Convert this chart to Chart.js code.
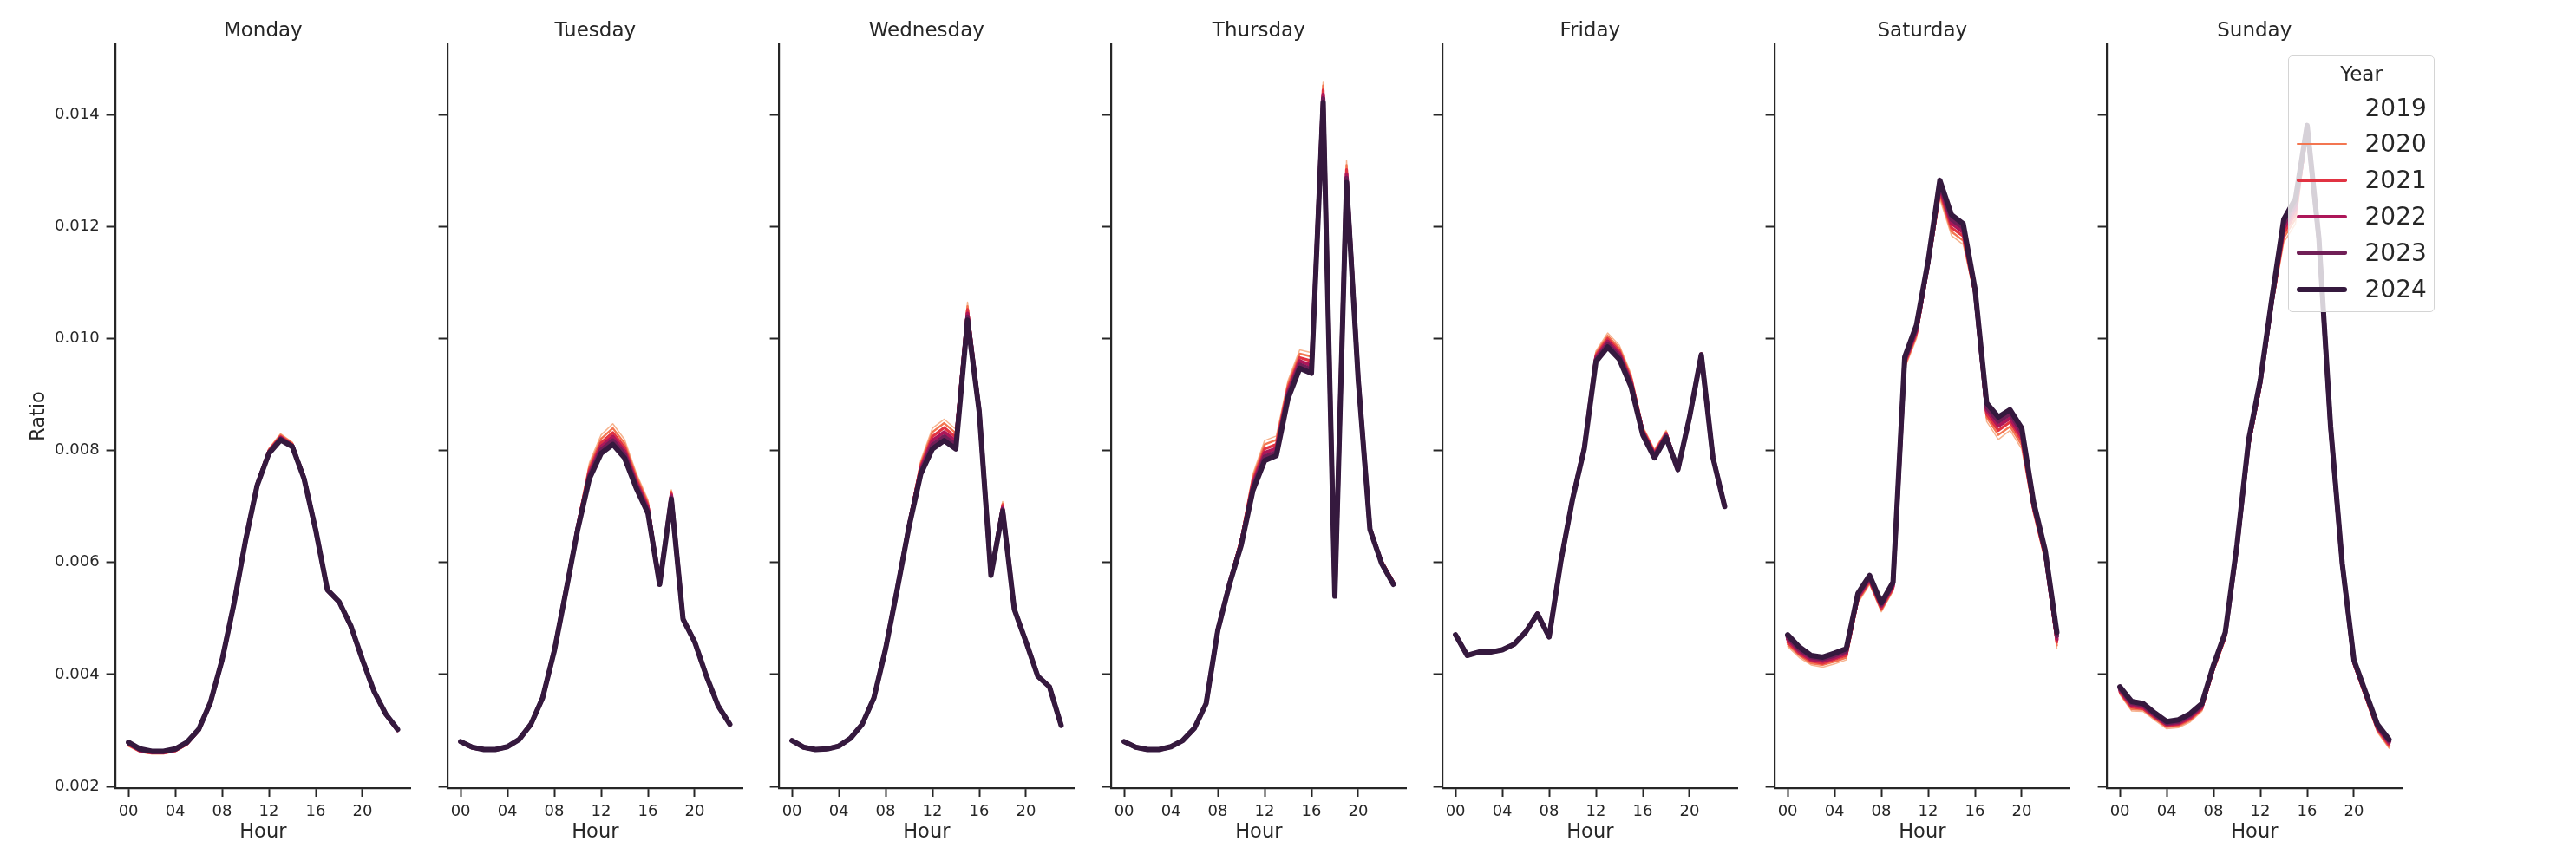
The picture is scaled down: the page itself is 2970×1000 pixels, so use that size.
<!DOCTYPE html>
<html>
<head>
<meta charset="utf-8">
<title>Hourly ratio by weekday and year</title>
<script src="https://cdn.jsdelivr.net/npm/chart.js@4.4.1/dist/chart.umd.min.js"></script>
<style>
  html, body { margin: 0; padding: 0; background: #fff; }
  #wrap { position: relative; width: 2970px; height: 1000px; overflow: hidden; background: #fff;
          font-family: 'DejaVu Sans', sans-serif; color: #262626; }
  #wrap canvas { position: absolute; top: 0; }
  #legend { position: absolute; left: 2638px; top: 64px; width: 169px; height: 296px; box-sizing: border-box;
            border: 1.5px solid #d4d4d4; border-radius: 5px; background: rgba(255, 255, 255, 0.8); z-index: 10; }
  #legend .legend-title { position: absolute; left: 0; width: 100%; top: 6px; line-height: 28px;
                          font-size: 23px; text-align: center; }
  #legend .legend-row { position: absolute; left: 0; width: 100%; height: 30px; }
  #legend .handle { position: absolute; left: 8.5px; width: 58px; }
  #legend .label { position: absolute; left: 87.5px; top: 0; line-height: 30px; font-size: 28px; }
</style>
</head>
<body>
<div id="wrap">
  <div id="legend"></div>
</div>
<script>
var hours = [0, 1, 2, 3, 4, 5, 6, 7, 8, 9, 10, 11, 12, 13, 14, 15, 16, 17, 18, 19, 20, 21, 22, 23];
var hourTicks = [0, 4, 8, 12, 16, 20];
var ratioTicks = [0.002, 0.004, 0.006, 0.008, 0.010, 0.012, 0.014];
var days = ['Monday', 'Tuesday', 'Wednesday', 'Thursday', 'Friday', 'Saturday', 'Sunday'];
var years = ['2019', '2020', '2021', '2022', '2023', '2024'];
var yearColors = ['#f6b48f', '#f37651', '#e13342', '#ad1759', '#701f57', '#35193e'];
var yearWidths = [1.5, 2.4, 3.3, 4.2, 5.1, 6.0];

// ratio per hour
var mon2019 = [0.00272,0.00261,0.00258,0.00258,0.00262,0.00274,0.00298,0.00348,0.00425,0.00526,0.00642,0.00744,0.00804,0.00830,0.00815,0.00755,0.00659,0.00549,0.00527,0.00484,0.00422,0.00366,0.00326,0.00298];
var mon2020 = [0.00273,0.00262,0.00259,0.00259,0.00263,0.00275,0.00299,0.00348,0.00425,0.00526,0.00641,0.00743,0.00802,0.00828,0.00813,0.00754,0.00659,0.00549,0.00528,0.00485,0.00423,0.00367,0.00327,0.00299];
var mon2021 = [0.00275,0.00263,0.00260,0.00260,0.00264,0.00276,0.00300,0.00349,0.00425,0.00525,0.00640,0.00741,0.00800,0.00825,0.00811,0.00753,0.00658,0.00550,0.00528,0.00485,0.00424,0.00367,0.00327,0.00300];
var mon2022 = [0.00276,0.00264,0.00261,0.00261,0.00265,0.00277,0.00301,0.00349,0.00426,0.00525,0.00640,0.00740,0.00798,0.00823,0.00809,0.00752,0.00658,0.00550,0.00529,0.00486,0.00425,0.00368,0.00328,0.00301];
var mon2023 = [0.00278,0.00266,0.00262,0.00262,0.00266,0.00278,0.00301,0.00350,0.00426,0.00525,0.00639,0.00739,0.00796,0.00821,0.00808,0.00751,0.00658,0.00551,0.00530,0.00486,0.00426,0.00369,0.00329,0.00301];
var mon2024 = [0.00279,0.00267,0.00263,0.00263,0.00267,0.00279,0.00302,0.00350,0.00426,0.00525,0.00639,0.00738,0.00795,0.00819,0.00807,0.00750,0.00658,0.00551,0.00530,0.00487,0.00426,0.00369,0.00329,0.00302];

var tue2019 = [0.00278,0.00268,0.00265,0.00265,0.00270,0.00283,0.00311,0.00360,0.00446,0.00556,0.00672,0.00778,0.00828,0.00848,0.00820,0.00760,0.00712,0.00565,0.00730,0.00503,0.00460,0.00398,0.00344,0.00310];
var tue2020 = [0.00279,0.00268,0.00265,0.00265,0.00270,0.00283,0.00311,0.00360,0.00445,0.00555,0.00670,0.00772,0.00821,0.00840,0.00813,0.00755,0.00707,0.00564,0.00727,0.00502,0.00460,0.00398,0.00344,0.00310];
var tue2021 = [0.00279,0.00269,0.00265,0.00265,0.00270,0.00283,0.00311,0.00359,0.00444,0.00553,0.00667,0.00766,0.00814,0.00832,0.00806,0.00749,0.00702,0.00563,0.00723,0.00501,0.00459,0.00398,0.00344,0.00311];
var tue2022 = [0.00280,0.00269,0.00266,0.00266,0.00271,0.00284,0.00311,0.00359,0.00444,0.00552,0.00664,0.00760,0.00807,0.00825,0.00799,0.00743,0.00697,0.00562,0.00720,0.00500,0.00459,0.00397,0.00344,0.00311];
var tue2023 = [0.00280,0.00270,0.00266,0.00266,0.00271,0.00284,0.00311,0.00358,0.00443,0.00550,0.00661,0.00755,0.00801,0.00818,0.00793,0.00738,0.00692,0.00561,0.00716,0.00499,0.00458,0.00397,0.00344,0.00311];
var tue2024 = [0.00280,0.00270,0.00266,0.00266,0.00271,0.00284,0.00311,0.00358,0.00442,0.00549,0.00659,0.00750,0.00795,0.00811,0.00787,0.00733,0.00688,0.00561,0.00713,0.00499,0.00458,0.00397,0.00344,0.00311];

var wed2019 = [0.00281,0.00269,0.00265,0.00266,0.00271,0.00286,0.00312,0.00360,0.00449,0.00558,0.00675,0.00782,0.00840,0.00856,0.00838,0.01065,0.00880,0.00580,0.00709,0.00520,0.00460,0.00398,0.00380,0.00309];
var wed2020 = [0.00281,0.00269,0.00265,0.00266,0.00271,0.00286,0.00312,0.00360,0.00449,0.00557,0.00673,0.00777,0.00833,0.00849,0.00831,0.01058,0.00878,0.00579,0.00705,0.00519,0.00460,0.00398,0.00380,0.00309];
var wed2021 = [0.00281,0.00269,0.00265,0.00266,0.00271,0.00286,0.00311,0.00359,0.00448,0.00556,0.00671,0.00772,0.00825,0.00841,0.00824,0.01052,0.00876,0.00579,0.00702,0.00518,0.00459,0.00398,0.00379,0.00309];
var wed2022 = [0.00282,0.00270,0.00266,0.00267,0.00272,0.00286,0.00311,0.00359,0.00447,0.00555,0.00668,0.00767,0.00818,0.00833,0.00817,0.01045,0.00873,0.00578,0.00698,0.00517,0.00459,0.00397,0.00379,0.00309];
var wed2023 = [0.00282,0.00270,0.00266,0.00267,0.00272,0.00286,0.00311,0.00358,0.00447,0.00554,0.00666,0.00762,0.00810,0.00825,0.00810,0.01039,0.00871,0.00578,0.00695,0.00516,0.00458,0.00397,0.00378,0.00309];
var wed2024 = [0.00282,0.00270,0.00266,0.00267,0.00272,0.00286,0.00311,0.00358,0.00446,0.00553,0.00664,0.00758,0.00803,0.00818,0.00803,0.01033,0.00869,0.00577,0.00692,0.00516,0.00458,0.00397,0.00378,0.00309];

var thu2019 = [0.00279,0.00269,0.00265,0.00265,0.00270,0.00282,0.00305,0.00350,0.00483,0.00570,0.00647,0.00758,0.00818,0.00826,0.00925,0.00980,0.00975,0.01458,0.00545,0.01318,0.00940,0.00665,0.00605,0.00568];
var thu2020 = [0.00279,0.00269,0.00265,0.00265,0.00270,0.00282,0.00305,0.00350,0.00482,0.00568,0.00644,0.00752,0.00811,0.00819,0.00919,0.00973,0.00968,0.01452,0.00544,0.01310,0.00937,0.00664,0.00604,0.00567];
var thu2021 = [0.00279,0.00269,0.00265,0.00265,0.00270,0.00282,0.00305,0.00349,0.00481,0.00566,0.00640,0.00746,0.00803,0.00811,0.00912,0.00966,0.00960,0.01444,0.00543,0.01302,0.00934,0.00663,0.00602,0.00565];
var thu2022 = [0.00280,0.00270,0.00266,0.00266,0.00271,0.00282,0.00304,0.00349,0.00480,0.00564,0.00637,0.00740,0.00796,0.00804,0.00905,0.00960,0.00952,0.01436,0.00542,0.01294,0.00931,0.00661,0.00600,0.00564];
var thu2023 = [0.00280,0.00270,0.00266,0.00266,0.00271,0.00282,0.00304,0.00348,0.00480,0.00563,0.00634,0.00734,0.00789,0.00797,0.00899,0.00953,0.00945,0.01429,0.00541,0.01287,0.00928,0.00660,0.00599,0.00562];
var thu2024 = [0.00280,0.00270,0.00266,0.00266,0.00271,0.00282,0.00304,0.00348,0.00479,0.00561,0.00631,0.00729,0.00782,0.00791,0.00893,0.00947,0.00938,0.01422,0.00540,0.01279,0.00926,0.00659,0.00598,0.00561];

var fri2019 = [0.00471,0.00434,0.00440,0.00440,0.00444,0.00455,0.00478,0.00511,0.00468,0.00604,0.00718,0.00812,0.00978,0.01010,0.00988,0.00937,0.00843,0.00802,0.00836,0.00770,0.00862,0.00975,0.00790,0.00700];
var fri2020 = [0.00471,0.00434,0.00440,0.00440,0.00444,0.00455,0.00478,0.00510,0.00468,0.00604,0.00717,0.00810,0.00974,0.01005,0.00983,0.00932,0.00840,0.00799,0.00833,0.00769,0.00862,0.00974,0.00789,0.00700];
var fri2021 = [0.00471,0.00434,0.00440,0.00440,0.00444,0.00455,0.00477,0.00510,0.00468,0.00603,0.00716,0.00808,0.00970,0.01000,0.00978,0.00928,0.00837,0.00796,0.00831,0.00768,0.00861,0.00973,0.00789,0.00700];
var fri2022 = [0.00471,0.00434,0.00440,0.00440,0.00444,0.00454,0.00477,0.00509,0.00467,0.00603,0.00715,0.00806,0.00966,0.00995,0.00973,0.00923,0.00834,0.00793,0.00828,0.00767,0.00861,0.00972,0.00788,0.00700];
var fri2023 = [0.00471,0.00434,0.00440,0.00440,0.00444,0.00454,0.00476,0.00509,0.00467,0.00602,0.00714,0.00805,0.00962,0.00990,0.00968,0.00918,0.00831,0.00790,0.00826,0.00766,0.00860,0.00971,0.00788,0.00700];
var fri2024 = [0.00471,0.00434,0.00440,0.00440,0.00444,0.00454,0.00476,0.00508,0.00467,0.00602,0.00713,0.00803,0.00959,0.00985,0.00963,0.00914,0.00828,0.00787,0.00823,0.00766,0.00860,0.00971,0.00787,0.00700];

var sat2019 = [0.00450,0.00430,0.00417,0.00413,0.00419,0.00426,0.00528,0.00561,0.00512,0.00549,0.00947,0.01000,0.01123,0.01250,0.01184,0.01168,0.01074,0.00852,0.00820,0.00836,0.00803,0.00688,0.00602,0.00446];
var sat2020 = [0.00454,0.00434,0.00420,0.00417,0.00423,0.00430,0.00531,0.00564,0.00515,0.00552,0.00951,0.01005,0.01126,0.01257,0.01191,0.01175,0.01077,0.00859,0.00828,0.00843,0.00810,0.00692,0.00606,0.00452];
var sat2021 = [0.00458,0.00437,0.00424,0.00420,0.00427,0.00434,0.00535,0.00567,0.00518,0.00555,0.00955,0.01010,0.01129,0.01263,0.01198,0.01183,0.01080,0.00865,0.00836,0.00851,0.00818,0.00697,0.00610,0.00458];
var sat2022 = [0.00463,0.00441,0.00427,0.00424,0.00430,0.00438,0.00538,0.00570,0.00522,0.00558,0.00959,0.01014,0.01133,0.01270,0.01206,0.01190,0.01084,0.00872,0.00844,0.00858,0.00825,0.00700,0.00614,0.00463];
var sat2023 = [0.00467,0.00445,0.00431,0.00428,0.00434,0.00442,0.00542,0.00574,0.00525,0.00562,0.00963,0.01019,0.01136,0.01277,0.01213,0.01198,0.01087,0.00878,0.00852,0.00866,0.00833,0.00705,0.00618,0.00469];
var sat2024 = [0.00471,0.00449,0.00434,0.00431,0.00438,0.00446,0.00545,0.00577,0.00528,0.00565,0.00967,0.01024,0.01139,0.01283,0.01221,0.01205,0.01090,0.00885,0.00860,0.00873,0.00840,0.00709,0.00622,0.00475];

var sun2019 = [0.00364,0.00335,0.00334,0.00318,0.00303,0.00305,0.00315,0.00334,0.00405,0.00462,0.00615,0.00800,0.00908,0.01055,0.01172,0.01205,0.01370,0.01172,0.00835,0.00590,0.00415,0.00356,0.00297,0.00268];
var sun2020 = [0.00367,0.00338,0.00337,0.00321,0.00306,0.00308,0.00318,0.00337,0.00407,0.00465,0.00618,0.00804,0.00912,0.01059,0.01180,0.01214,0.01372,0.01174,0.00837,0.00592,0.00417,0.00358,0.00300,0.00271];
var sun2021 = [0.00369,0.00342,0.00339,0.00323,0.00308,0.00311,0.00321,0.00339,0.00410,0.00467,0.00621,0.00808,0.00915,0.01063,0.01188,0.01223,0.01375,0.01175,0.00839,0.00593,0.00419,0.00361,0.00303,0.00274];
var sun2022 = [0.00372,0.00345,0.00342,0.00326,0.00311,0.00313,0.00324,0.00342,0.00412,0.00470,0.00625,0.00811,0.00919,0.01066,0.01197,0.01232,0.01377,0.01177,0.00841,0.00595,0.00421,0.00363,0.00305,0.00278];
var sun2023 = [0.00375,0.00349,0.00345,0.00328,0.00313,0.00316,0.00327,0.00345,0.00415,0.00472,0.00628,0.00815,0.00922,0.01070,0.01205,0.01241,0.01379,0.01179,0.00842,0.00597,0.00424,0.00366,0.00308,0.00281];
var sun2024 = [0.00378,0.00352,0.00348,0.00331,0.00316,0.00319,0.00330,0.00348,0.00417,0.00475,0.00631,0.00819,0.00926,0.01074,0.01213,0.01250,0.01381,0.01180,0.00844,0.00598,0.00426,0.00368,0.00311,0.00284];

var seriesByDay = [
    [mon2019, mon2020, mon2021, mon2022, mon2023, mon2024],
    [tue2019, tue2020, tue2021, tue2022, tue2023, tue2024],
    [wed2019, wed2020, wed2021, wed2022, wed2023, wed2024],
    [thu2019, thu2020, thu2021, thu2022, thu2023, thu2024],
    [fri2019, fri2020, fri2021, fri2022, fri2023, fri2024],
    [sat2019, sat2020, sat2021, sat2022, sat2023, sat2024],
    [sun2019, sun2020, sun2021, sun2022, sun2023, sun2024]
];

var FONT = 'DejaVu Sans';
var INK = '#262626';
var panelStep = 382.6;   // distance between the left spines of two panels
var yAxisWidth = 132.6;
var xAxisHeight = 91;

var wrap = document.getElementById('wrap');

days.forEach(function(day, i) {
    var canvas = document.createElement('canvas');
    canvas.width = 474;
    canvas.height = 1000;
    canvas.style.left = (i * panelStep) + 'px';
    wrap.insertBefore(canvas, document.getElementById('legend'));

    var first = (i === 0);
    var datasets = years.map(function(year, j) {
        return {
            label: year,
            data: hours.map(function(h, k) { return { x: h, y: seriesByDay[i][j][k] }; }),
            borderColor: yearColors[j],
            backgroundColor: yearColors[j],
            borderWidth: yearWidths[j],
            borderJoinStyle: 'round',
            borderCapStyle: 'round',
            pointRadius: 0,
            fill: false,
            tension: 0,
            order: years.length - 1 - j
        };
    });

    new Chart(canvas.getContext('2d'), {
        type: 'line',
        data: { datasets: datasets },
        options: {
            responsive: false,
            animation: false,
            events: [],
            layout: { padding: 0, autoPadding: false },
            plugins: {
                legend: { display: false },
                tooltip: { enabled: false },
                title: {
                    display: true,
                    text: day,
                    fullSize: false,
                    color: INK,
                    font: { family: FONT, size: 23, weight: 'normal' },
                    padding: { top: 22.2, bottom: 1.2 }
                }
            },
            scales: {
                x: {
                    type: 'linear',
                    min: -1.15,
                    max: 24.15,
                    afterBuildTicks: function(scale) {
                        scale.ticks = hourTicks.map(function(v) { return { value: v }; });
                    },
                    afterFit: function(scale) { scale.height = xAxisHeight; },
                    border: { display: true, color: INK, width: 2.2 },
                    grid: { drawOnChartArea: false, drawTicks: true, tickLength: 10, tickWidth: 2, tickColor: INK },
                    ticks: {
                        color: INK,
                        font: { family: FONT, size: 18 },
                        padding: 7,
                        maxRotation: 0,
                        autoSkip: false,
                        callback: function(v) { return String(v).padStart(2, '0'); }
                    },
                    title: {
                        display: true,
                        text: 'Hour',
                        color: INK,
                        font: { family: FONT, size: 22.5 },
                        padding: { top: 0, bottom: 26 }
                    }
                },
                y: {
                    min: 0.00197,
                    max: 0.01526,
                    afterBuildTicks: function(scale) {
                        scale.ticks = ratioTicks.map(function(v) { return { value: v }; });
                    },
                    afterFit: function(scale) { scale.width = yAxisWidth; },
                    border: { display: true, color: INK, width: 2.2 },
                    grid: { drawOnChartArea: false, drawTicks: true, tickLength: 10, tickWidth: 2, tickColor: INK },
                    ticks: {
                        display: first,
                        color: INK,
                        font: { family: FONT, size: 18 },
                        padding: 8,
                        callback: function(v) { return v.toFixed(3); }
                    },
                    title: {
                        display: first,
                        text: 'Ratio',
                        color: INK,
                        font: { family: FONT, size: 22.5 },
                        padding: { top: 31.5, bottom: 0 }
                    }
                }
            }
        }
    });
});

// legend box, same look as the framed legend in the Sunday panel
var legendBox = document.getElementById('legend');
var legendTitle = document.createElement('div');
legendTitle.className = 'legend-title';
legendTitle.textContent = 'Year';
legendBox.appendChild(legendTitle);

years.forEach(function(year, j) {
    var row = document.createElement('div');
    row.className = 'legend-row';
    row.style.top = (44.5 + 41.8 * j) + 'px';

    var handle = document.createElement('span');
    handle.className = 'handle';
    handle.style.height = yearWidths[j] + 'px';
    handle.style.top = (15 - yearWidths[j] / 2) + 'px';
    handle.style.background = yearColors[j];
    handle.style.borderRadius = (yearWidths[j] / 2) + 'px';

    var label = document.createElement('span');
    label.className = 'label';
    label.textContent = year;

    row.appendChild(handle);
    row.appendChild(label);
    legendBox.appendChild(row);
});
</script>
</body>
</html>
